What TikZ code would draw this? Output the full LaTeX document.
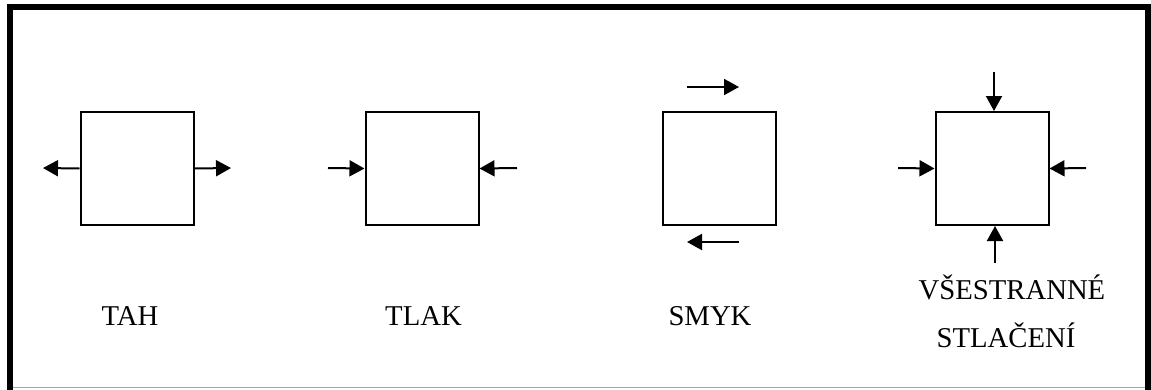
\documentclass[tikz,border=0pt]{standalone}
\usepackage{fontspec}
\setmainfont{Liberation Serif}
\usetikzlibrary{arrows.meta}
\begin{document}
\begin{tikzpicture}[x=1pt,y=-1pt,
  elem/.style={draw=black,line width=2pt,minimum width=113pt,minimum height=113pt,inner sep=0pt,fill=white},
  force/.style={line width=2pt,-{Triangle[length=15pt,width=16pt]}},
  lbl/.style={anchor=base,inner sep=0pt,font=\fontsize{28.7}{34}\selectfont}]
\useasboundingbox (0,0) rectangle (1151,389);
\clip (0,0) rectangle (1151,389);
% frame
\draw[line width=6pt] (10,400) -- (10,7) -- (1148,7) -- (1148,400);
\draw[gray!70,line width=1pt] (13,387.5) -- (1145,387.5);
% boxes
\node[elem] (A) at (137,168.5) {};
\node[elem] (B) at (422,168.5) {};
\node[elem] (C) at (719,168.5) {};
\node[elem] (D) at (992,168.5) {};
% TAH
\coordinate (a1) at (43,168);
\coordinate (a2) at (231,168);
\draw[force] (A.west) -- (a1);
\draw[force] (A.east) -- (a2);
% TLAK
\coordinate (b1) at (328,168);
\coordinate (b2) at (517,168);
\draw[force] (b1) -- (B.west);
\draw[force] (b2) -- (B.east);
% SMYK
\coordinate (c1) at (687,87);
\coordinate (c2) at (739,87);
\coordinate (c3) at (739,242);
\coordinate (c4) at (687,242);
\draw[force] (c1) -- (c2);
\draw[force] (c3) -- (c4);
% VSESTRANNE
\coordinate (d1) at (898,168);
\coordinate (d2) at (1086,168);
\coordinate (d3) at (994,72);
\coordinate (d4) at (995,263);
\draw[force] (d1) -- (D.west);
\draw[force] (d2) -- (D.east);
\draw[force] (d3) -- (d3 |- D.north);
\draw[force] (d4) -- (d4 |- D.south);
% labels
\node[lbl] (tA) at (130,325) {TAH};
\node[lbl] (tB) at (423.5,325) {TLAK};
\node[lbl] (tC) at (710,325) {SMYK};
\node[lbl] (tD1) at (1012,299) {VŠESTRANNÉ};
\node[lbl] (tD2) at (1006,347) {STLAČENÍ};
\end{tikzpicture}
\end{document}
